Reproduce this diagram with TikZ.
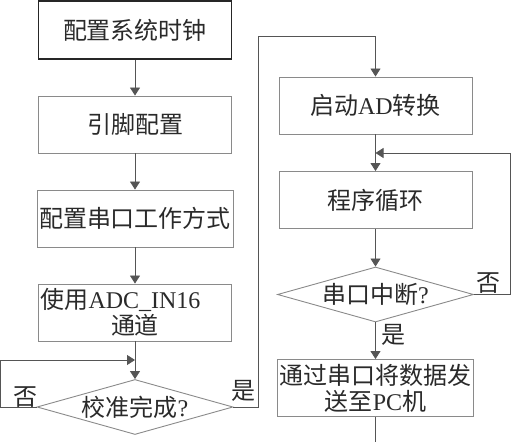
\documentclass[tikz,border=0pt]{standalone}
\usepackage{fontspec}
\setmainfont{Liberation Serif}
\newfontfamily\cjk{Noto Sans CJK SC}
\usetikzlibrary{arrows.meta,shapes.geometric}
\definecolor{txt}{HTML}{2A2A2A}
\definecolor{boxline}{HTML}{8A8A8A}
\definecolor{conn}{HTML}{555555}
\begin{document}
\begin{tikzpicture}[x=1pt,y=1pt,
  every node/.style={text=txt,font=\cjk\fontsize{24}{26}\selectfont},
  procbox/.style={draw=boxline,line width=0.9pt,minimum width=193pt,minimum height=57pt,inner sep=2pt,align=center},
  firstbox/.style={procbox,draw=black!85,line width=1.6pt},
  decbox/.style={diamond,draw=boxline,line width=0.9pt,aspect=3.6,inner sep=0pt,minimum width=196pt,minimum height=55pt},
  lbl/.style={inner sep=0pt},
  conline/.style={draw=conn,line width=0.9pt},
  arr/.style={conline,-{Triangle[width=10pt,length=8pt]}}]
\useasboundingbox (0,0) rectangle (512,442);
% left column
\node[firstbox,minimum height=58pt] (b1) at (135,412) {配置系统时钟};
\node[procbox] (b2) at (135,317.5) {引脚配置};
\node[procbox] (b3) at (135,223.5) {配置串口工作方式};
\node[procbox] (b4) at (135,129.5) {\parbox{189pt}{\cjk 使用{\rmfamily ADC\_IN16}\par\centering\cjk 通道\par}};
\node[decbox] (d1) at (135,35) {校准完成{\rmfamily ?}};
% right column
\node[procbox] (b5) at (375.5,336.5) {启动{\rmfamily AD}转换};
\node[procbox] (b6) at (375.5,242) {程序循环};
\node[decbox] (d2) at (375.5,147.5) {串口中断{\rmfamily ?}};
\node[procbox] (b7) at (375.5,54) {通过串口将数据发\\送至{\rmfamily PC}机};
% labels
\node[lbl] (no1) at (25,45) {否};
\node[lbl] (yes1) at (243,51) {是};
\node[lbl] (no2) at (488,159) {否};
\node[lbl] (yes2) at (393,107) {是};
% coordinates
\coordinate (m1) at (135,82);
\coordinate (lft) at (0.3,35);
\coordinate (rt) at (258,406);
\coordinate (m2) at (375.5,289);
\coordinate (rgt) at (510.5,147.5);
\coordinate (bot) at (375.5,0);
% connectors
\draw[arr] (b1) -- (b2);
\draw[arr] (b2) -- (b3);
\draw[arr] (b3) -- (b4);
\draw[conline] (b4.south) -- (m1);
\draw[arr] (m1) -- (d1.north);
\draw[arr] (d1.west) -- (lft) |- (m1);
\draw[arr] (d1.east) -| (rt) -| (b5.north);
\draw[conline] (b5.south) -- (m2);
\draw[arr] (m2) -- (b6.north);
\draw[arr] (b6) -- (d2);
\draw[arr] (d2.east) -- (rgt) |- (m2);
\draw[arr] (d2) -- (b7);
\draw[conline] (b7.south) -- (bot);
\end{tikzpicture}
\end{document}
